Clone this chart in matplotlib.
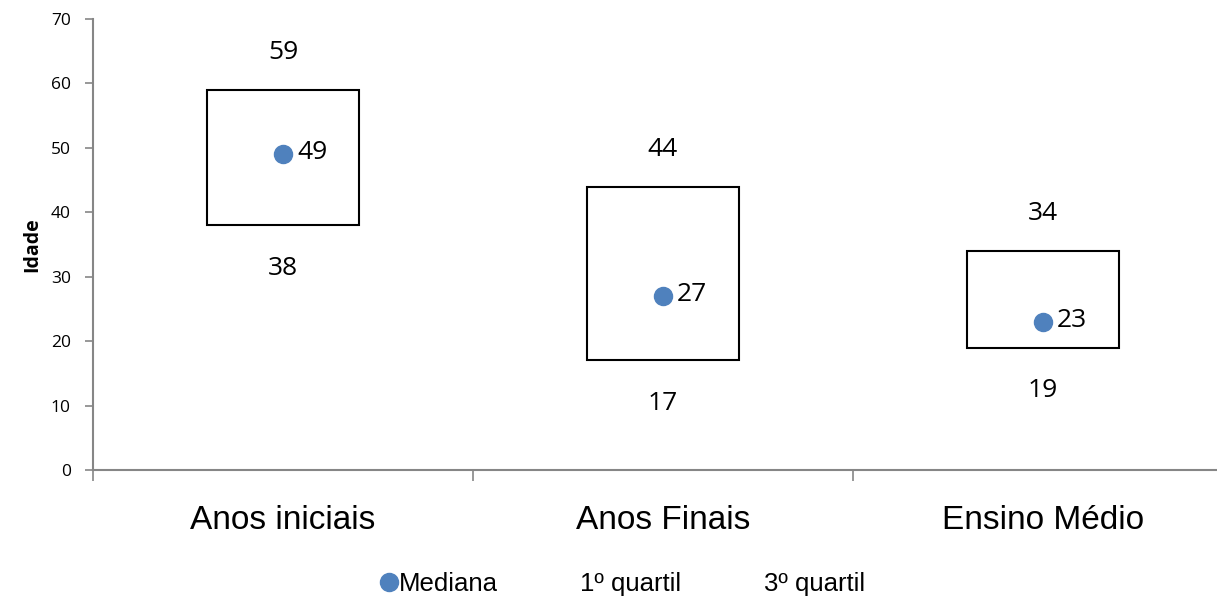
import matplotlib
matplotlib.use('Agg')
import matplotlib.pyplot as plt
from matplotlib.patches import Rectangle
from matplotlib.lines import Line2D

categories = ['Anos iniciais', 'Anos Finais', 'Ensino Médio']
q1 = [38, 17, 19]
median = [49, 27, 23]
q3 = [59, 44, 34]

blue = '#4f81bd'
axis_gray = '#868686'
narrow = ['Liberation Sans', 'DejaVu Sans']
body = ['Open Sans', 'DejaVu Sans']

fig = plt.figure(figsize=(12.17, 6.01), dpi=100)
ax = fig.add_axes([93 / 1217, 131 / 601, 1140 / 1217, 451 / 601])

x = list(range(1, len(categories) + 1))
box_w = 0.4
for xi, lo, hi in zip(x, q1, q3):
    ax.add_patch(Rectangle((xi - box_w / 2, lo), box_w, hi - lo,
                           fill=False, edgecolor='black', lw=1.5, zorder=2))
    ax.annotate(str(hi), (xi, hi), xytext=(0, 27), textcoords='offset points',
                ha='center', va='center', fontsize=19, family=body)
    ax.annotate(str(lo), (xi, lo), xytext=(0, -31), textcoords='offset points',
                ha='center', va='center', fontsize=19, family=body)

ax.plot(x, median, 'o', color=blue, markersize=13, zorder=3)
for xi, m in zip(x, median):
    ax.annotate(str(m), (xi, m), xytext=(21, 1), textcoords='offset points',
                ha='center', va='center', fontsize=19, family=body)

ax.set_xlim(0.5, 3.5)
ax.set_ylim(0, 70)
ax.set_yticks(range(0, 71, 10))
ax.tick_params(axis='y', length=6, width=1.2, color=axis_gray, pad=10,
               labelsize=12.5)
for lbl in ax.get_yticklabels():
    lbl.set_family(body)

ax.set_xticks(x)
ax.set_xticklabels(categories, fontsize=24, family=narrow)
ax.tick_params(axis='x', which='major', length=0, pad=25)
ax.set_xticks([0.5, 1.5, 2.5], minor=True)
ax.tick_params(axis='x', which='minor', length=8, width=1.2, color=axis_gray)

for side in ['top', 'right']:
    ax.spines[side].set_visible(False)
for side in ['left', 'bottom']:
    ax.spines[side].set_color(axis_gray)
    ax.spines[side].set_linewidth(1.5)

ax.set_ylabel('Idade', fontsize=14, fontweight='bold', family=body, labelpad=6)

handles = [
    Line2D([], [], marker='o', color=blue, linestyle='none', markersize=13),
    Line2D([], [], linestyle='none'),
    Line2D([], [], linestyle='none'),
]
fig.legend(handles, ['Mediana', '1º quartil', '3º quartil'],
           loc='center', bbox_to_anchor=(0.512, 0.028), ncol=3, frameon=False,
           handlelength=0.6, handletextpad=0.1, columnspacing=2.5,
           prop={'family': narrow, 'size': 18.5})

fig.savefig('out.png', dpi=100, facecolor='white')
